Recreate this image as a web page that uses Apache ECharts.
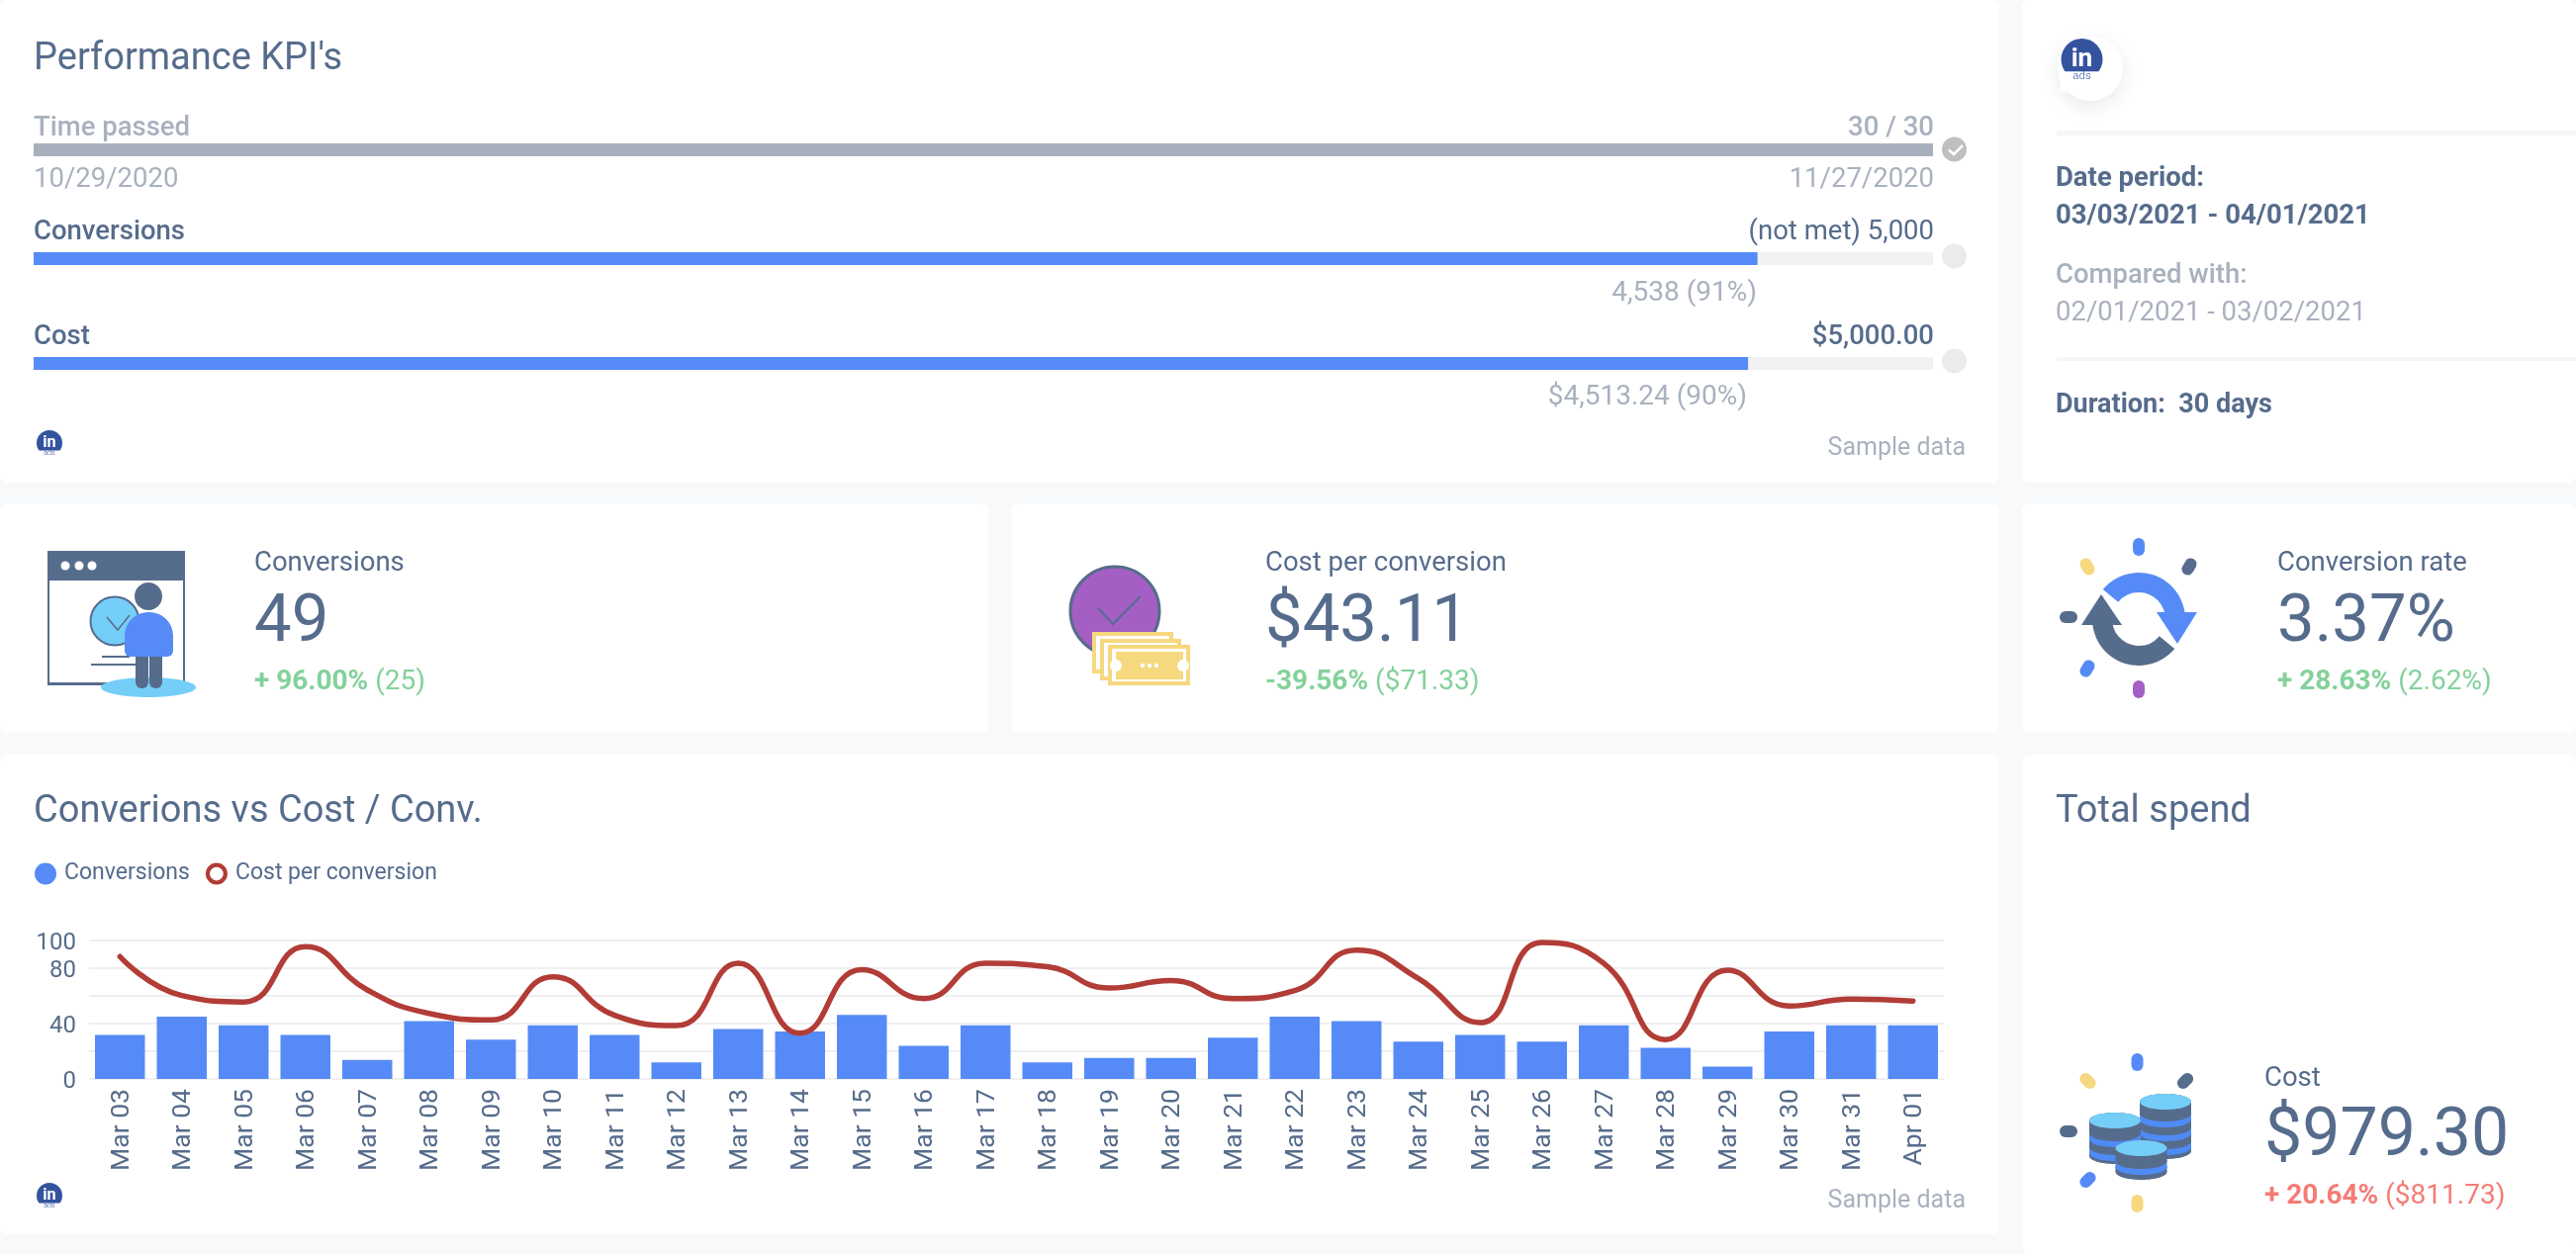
<!DOCTYPE html>
<html>
<head>
<meta charset="utf-8">
<title>Performance KPI's</title>
<style>
  html, body { margin: 0; padding: 0; background: #f7f9fb; }
  #container { width: 2604px; height: 1268px; }
</style>
</head>
<body>
<div id="container"></div>
<script src="https://cdn.jsdelivr.net/npm/echarts@6/dist/echarts.min.js"></script>
<script>
const days = ['Mar 03', 'Mar 04', 'Mar 05', 'Mar 06', 'Mar 07', 'Mar 08', 'Mar 09', 'Mar 10', 'Mar 11', 'Mar 12',
  'Mar 13', 'Mar 14', 'Mar 15', 'Mar 16', 'Mar 17', 'Mar 18', 'Mar 19', 'Mar 20', 'Mar 21', 'Mar 22',
  'Mar 23', 'Mar 24', 'Mar 25', 'Mar 26', 'Mar 27', 'Mar 28', 'Mar 29', 'Mar 30', 'Mar 31', 'Apr 01'];
const conversions = [31.7, 45, 38.8, 31.7, 13.7, 41.8, 28.4, 38.8, 31.7, 12,
  36, 34.3, 46.3, 23.9, 38.8, 12, 15.1, 15.1, 29.8, 45,
  41.8, 27, 31.7, 27, 38.8, 22.5, 9, 34.3, 38.8, 38.8];
const costPerConversion = [88.4, 60.3, 55.6, 95.5, 64.3, 47.3, 42.6, 73.8, 46, 38.5,
  83.5, 33, 79, 58, 83.5, 81, 65.7, 71, 58, 63.8,
  93, 72.6, 40.7, 98.6, 83.5, 28.4, 78.5, 52.7, 57.7, 56.3];
const yLabels = [0, 40, 80, 100];

const timeKpi = [30], timeGoal = 30;
const conversionKpi = [4538], conversionGoal = 5000;
const costKpi = [4513.24], costGoal = 5000;

const DARK = '#566c8c', GREY = '#a9b1bf', BLUE = '#568bf7', SKY = '#74cef8', YELLOW = '#f6d87f',
  PURPLE = '#a45fc5', RED = '#b23c36', GREEN = '#84d19b', CORAL = '#f47c75', TRACK = '#f2f2f2';
const FONT = 'Roboto';
const RING = 'path://M12 0A12 12 0 1 1 12 24A12 12 0 1 1 12 0ZM12 4.5A7.5 7.5 0 1 0 12 19.5A7.5 7.5 0 1 0 12 4.5Z';

// text is placed by its baseline
function txt(x, base, text, size, color, weight, align) {
  return {
    type: 'text', x: x, y: base - size * 0.3 + 3, silent: true,
    style: { text: text, fill: color, fontFamily: FONT, fontSize: size, fontWeight: weight || 400,
      align: align || 'left', verticalAlign: 'middle' }
  };
}

function delta(x, base, strong, rest, color) {
  return {
    type: 'text', x: x, y: base - 4, silent: true,
    style: {
      text: '{b|' + strong + '} {r|' + rest + '}', align: 'left', verticalAlign: 'middle',
      fontFamily: FONT, fontSize: 28,
      rich: {
        b: { fill: color, fontFamily: FONT, fontSize: 28, fontWeight: 700 },
        r: { fill: color, fontFamily: FONT, fontSize: 28, fontWeight: 400 }
      }
    }
  };
}

function card(x, y, w, h) {
  return { type: 'rect', z: -1, silent: true, shape: { x: x, y: y, width: w, height: h, r: 8 }, style: { fill: '#fff' } };
}
function rect(x, y, w, h, color, r) {
  return { type: 'rect', silent: true, shape: { x: x, y: y, width: w, height: h, r: r || 0 }, style: { fill: color } };
}
function circle(cx, cy, r, fill, stroke, lw) {
  return { type: 'circle', silent: true, shape: { cx: cx, cy: cy, r: r }, style: { fill: fill, stroke: stroke, lineWidth: lw || 0 } };
}
function ellipse(cx, cy, rx, ry, fill) {
  return { type: 'ellipse', silent: true, shape: { cx: cx, cy: cy, rx: rx, ry: ry }, style: { fill: fill } };
}
function check(points, color, lw) {
  return { type: 'polyline', silent: true, shape: { points: points }, style: { fill: null, stroke: color, lineWidth: lw } };
}
function dash(cx, cy, angle, color) {
  return { type: 'rect', silent: true, x: cx, y: cy, rotation: angle, shape: { x: -9, y: -6, width: 18, height: 12, r: 6 }, style: { fill: color } };
}

function linkedin(cx, cy, r) {
  return [
    circle(cx, cy, r, '#34539f'),
    rect(cx - r - 1, cy + r * 0.58, r * 2 + 2, r, '#fff'),
    { type: 'text', x: cx, y: cy + r * 0.02, silent: true, style: { text: 'in', fill: '#fff', fontFamily: FONT, fontWeight: 700, fontSize: r * 1.25, align: 'center', verticalAlign: 'middle' } },
    { type: 'text', x: cx, y: cy + r * 0.8, silent: true, style: { text: 'ads', fill: '#34539f', fontFamily: FONT, fontWeight: 300, fontSize: r * 0.55, align: 'center', verticalAlign: 'middle' } }
  ];
}

function coinStack(cx, top, bottom, stripes) {
  const rx = 26, ry = 8, out = [];
  function disk(t, b, color) {
    out.push(ellipse(cx, b, rx, ry, color), rect(cx - rx, t, rx * 2, b - t, color), ellipse(cx, t, rx, ry, color));
  }
  let low = bottom;
  stripes.slice().reverse().forEach(s => {
    disk(s + 3, low, DARK);
    disk(s - 3, s + 3, '#4f8bf5');
    low = s - 3;
  });
  disk(top, low, DARK);
  out.push(ellipse(cx, top, rx, ry, SKY));
  return out;
}

const windowIcon = [
  rect(49, 558, 137, 134, '#fff'),
  { type: 'rect', silent: true, shape: { x: 49, y: 558, width: 137, height: 134 }, style: { fill: null, stroke: DARK, lineWidth: 2 } },
  rect(48, 557, 139, 30, DARK),
  rect(48, 690, 139, 3, DARK),
  circle(66, 572, 4.5, '#fff'), circle(80, 572, 4.5, '#fff'), circle(93, 572, 4.5, '#fff'),
  rect(103, 663, 28, 2, DARK), rect(92, 671, 45, 2, DARK),
  circle(116, 628, 24.5, SKY, DARK, 2),
  check([[108, 624], [119, 637], [131, 622]], DARK, 1.5),
  ellipse(150, 603, 14, 14, DARK),
  ellipse(150, 695, 48, 10, SKY),
  rect(137, 660, 13, 36, DARK, [0, 0, 6, 6]), rect(151, 660, 13, 36, DARK, [0, 0, 6, 6]),
  rect(126, 619, 49, 45, BLUE, [24, 24, 6, 6])
];

const moneyIcon = [
  circle(1127, 618, 45, PURPLE, DARK, 3),
  check([[1110, 615], [1125, 631], [1153, 603]], DARK, 2),
  { type: 'rect', silent: true, shape: { x: 1106, y: 641, width: 78, height: 38 }, style: { fill: '#fff', stroke: YELLOW, lineWidth: 4 } },
  { type: 'rect', silent: true, shape: { x: 1114, y: 648, width: 78, height: 38 }, style: { fill: '#fff', stroke: YELLOW, lineWidth: 4 } },
  { type: 'rect', silent: true, shape: { x: 1122, y: 654, width: 79, height: 37 }, style: { fill: '#fff', stroke: YELLOW, lineWidth: 4 } },
  rect(1128, 659, 68, 28, YELLOW),
  circle(1128, 673, 6, '#fff'), circle(1196, 673, 6, '#fff'),
  circle(1155, 673, 2.2, '#fff'), circle(1162, 673, 2.2, '#fff'), circle(1169, 673, 2.2, '#fff')
];

const cycleIcon = [
  dash(2162, 553, Math.PI / 2, BLUE), dash(2213, 573, Math.PI / 3, DARK), dash(2110, 573, -Math.PI / 3, YELLOW),
  dash(2091, 624, 0, DARK), dash(2110, 676, Math.PI / 3, BLUE), dash(2162, 697, Math.PI / 2, PURPLE),
  { type: 'sector', silent: true, shape: { cx: 2162, cy: 626, r0: 27, r: 47, startAngle: -Math.PI * 0.78, endAngle: 0.02, clockwise: true }, style: { fill: BLUE } },
  { type: 'polygon', silent: true, shape: { points: [[2180, 619], [2221, 619], [2201, 651]] }, style: { fill: BLUE } },
  { type: 'sector', silent: true, shape: { cx: 2162, cy: 626, r0: 27, r: 47, startAngle: Math.PI * 0.22, endAngle: Math.PI * 1.02, clockwise: true }, style: { fill: DARK } },
  { type: 'polygon', silent: true, shape: { points: [[2145, 632], [2104, 632], [2124, 601]] }, style: { fill: DARK } }
];

const coinIcon = [
  dash(2160.5, 1074, Math.PI / 2, BLUE), dash(2209, 1093, Math.PI / 4, DARK), dash(2110.5, 1093, -Math.PI / 4, YELLOW),
  dash(2091, 1144, 0, DARK), dash(2110.5, 1193, Math.PI / 4, BLUE), dash(2160.5, 1217, Math.PI / 2, YELLOW)
].concat(
  coinStack(2189, 1114, 1164, [1129, 1143, 1157]),
  coinStack(2138, 1133, 1169, [1149, 1163]),
  coinStack(2164.5, 1161, 1185, [1177])
);

const elements = [
  card(0, 0, 2021, 488), card(2044, 0, 560, 488),
  card(0, 509, 999, 232), card(1023, 509, 998, 232), card(2044, 509, 560, 232),
  card(0, 763, 2021, 485), card(2044, 763, 560, 505),

  txt(34, 69, "Performance KPI's", 38, DARK, 400),
  txt(34, 135.5, 'Time passed', 27.5, GREY, 500),
  txt(1955, 135.5, '30 / 30', 27.5, GREY, 500, 'right'),
  txt(34, 187, '10/29/2020', 27.5, GREY, 400),
  txt(1955, 187, '11/27/2020', 27.5, GREY, 400, 'right'),
  txt(34, 240.5, 'Conversions', 27.5, DARK, 500),
  txt(1955, 240.5, '(not met) 5,000', 27.5, DARK, 400, 'right'),
  txt(1776, 302, '4,538 (91%)', 28, GREY, 400, 'right'),
  txt(34, 346.5, 'Cost', 27.5, DARK, 500),
  txt(1955, 346.5, '$5,000.00', 27.5, DARK, 500, 'right'),
  txt(1766, 407, '$4,513.24 (90%)', 28, GREY, 400, 'right'),
  txt(1987, 458, 'Sample data', 25, GREY, 400, 'right'),

  circle(1975.5, 151, 12.5, '#bfbfbf'),
  check([[1970, 151.5], [1975, 156], [1984, 147]], '#fff', 2.5),
  circle(1975.5, 259, 12.5, '#ebebeb'),
  circle(1975.5, 365, 12.5, '#ebebeb'),

  { type: 'circle', silent: true, shape: { cx: 2113, cy: 69, r: 33 }, style: { fill: '#fff', shadowBlur: 18, shadowOffsetY: 6, shadowColor: 'rgba(60,80,110,0.12)' } },
  rect(2079, 132, 525, 5, '#f5f6f8'),
  txt(2078, 186, 'Date period:', 27.5, DARK, 700),
  txt(2078, 224, '03/03/2021 - 04/01/2021', 27.5, DARK, 700),
  txt(2078, 284, 'Compared with:', 27.5, GREY, 500),
  txt(2078, 322, '02/01/2021 - 03/02/2021', 27.5, GREY, 400),
  rect(2079, 361, 525, 4, '#f5f6f8'),
  txt(2078, 415, 'Duration:  30 days', 27, DARK, 700),

  txt(257, 575, 'Conversions', 27.5, DARK, 400),
  txt(257, 648, '49', 67, DARK, 400),
  delta(257, 694, '+ 96.00%', '(25)', GREEN),
  txt(1279, 575, 'Cost per conversion', 27.5, DARK, 400),
  txt(1279, 648, '$43.11', 67, DARK, 400),
  delta(1279, 694, '-39.56%', '($71.33)', GREEN),
  txt(2302, 575, 'Conversion rate', 27.5, DARK, 400),
  txt(2302, 648, '3.37%', 67, DARK, 400),
  delta(2302, 694, '+ 28.63%', '(2.62%)', GREEN),

  txt(34, 830, 'Converions vs Cost / Conv.', 38, DARK, 400),
  txt(1987, 1219, 'Sample data', 25, GREY, 400, 'right'),

  txt(2078, 830, 'Total spend', 38, DARK, 400),
  txt(2289, 1096, 'Cost', 27.5, DARK, 400),
  txt(2289, 1168, '$979.30', 68, DARK, 400),
  delta(2289, 1214, '+ 20.64%', '($811.73)', CORAL)
].concat(
  linkedin(50, 448, 13), linkedin(50, 1209, 13), linkedin(2104.5, 60, 21),
  windowIcon, moneyIcon, cycleIcon, coinIcon
);

function progressGrid(top) {
  return { left: 34, top: top, width: 1920, height: 13, containLabel: false };
}
function progressAxes(index, max) {
  return {
    x: { type: 'value', gridIndex: index, min: 0, max: max, show: false },
    y: { type: 'category', gridIndex: index, data: [''], show: false }
  };
}
function progressSeries(index, data, color, name) {
  return {
    name: name, type: 'bar', xAxisIndex: index, yAxisIndex: index, data: data, barWidth: 13, silent: true,
    itemStyle: { color: color }, showBackground: true, backgroundStyle: { color: TRACK }
  };
}
const pTime = progressAxes(1, timeGoal), pConv = progressAxes(2, conversionGoal), pCost = progressAxes(3, costGoal);

var dom = document.getElementById('container');
var myChart = echarts.init(dom);

var option = {
  backgroundColor: '#f7f9fb',
  animation: false,
  textStyle: { fontFamily: FONT },
  graphic: { elements: elements },
  legend: {
    left: 35, top: 872, itemWidth: 22, itemHeight: 22, itemGap: 16, padding: 0,
    selectedMode: false,
    textStyle: { color: DARK, fontSize: 23, fontFamily: FONT, padding: [0, 0, 0, 3] },
    data: [
      { name: 'Conversions', icon: 'circle', itemStyle: { color: BLUE } },
      { name: 'Cost per conversion', icon: RING, itemStyle: { color: RED } }
    ]
  },
  grid: [
    { left: 90, top: 951, width: 1875, height: 140 },
    progressGrid(145), progressGrid(255), progressGrid(361)
  ],
  xAxis: [
    {
      type: 'category', gridIndex: 0, data: days,
      axisLine: { show: false }, axisTick: { show: false },
      // top anchored with a negative pad: nudges the rotated labels right of the band centre
      axisLabel: { interval: 0, rotate: 90, margin: 10, color: DARK, fontSize: 26.5, fontFamily: FONT, verticalAlign: 'top', padding: [-11.5, 0, 0, 0] }
    },
    pTime.x, pConv.x, pCost.x
  ],
  yAxis: [
    {
      type: 'value', gridIndex: 0, min: 0, max: 100, interval: 20,
      axisLine: { show: false }, axisTick: { show: false },
      axisLabel: { customValues: yLabels, margin: 13, color: DARK, fontSize: 24, fontFamily: FONT, verticalAlign: 'top', padding: [-9.5, 0, 0, 0] },
      splitLine: { lineStyle: { color: '#efefef', width: 2 } }
    },
    pTime.y, pConv.y, pCost.y
  ],
  series: [
    {
      name: 'Conversions', type: 'bar', data: conversions, barWidth: 50.5,
      itemStyle: { color: BLUE }
    },
    {
      name: 'Cost per conversion', type: 'line', data: costPerConversion, smooth: 0.5,
      showSymbol: false, symbol: 'none',
      lineStyle: { color: RED, width: 5.5, cap: 'round' },
      itemStyle: { color: RED }
    },
    progressSeries(1, timeKpi, '#a9b0bd', 'Time passed'),
    progressSeries(2, conversionKpi, BLUE, 'Conversions goal'),
    progressSeries(3, costKpi, BLUE, 'Cost goal')
  ]
};

myChart.setOption(option);
</script>
</body>
</html>
